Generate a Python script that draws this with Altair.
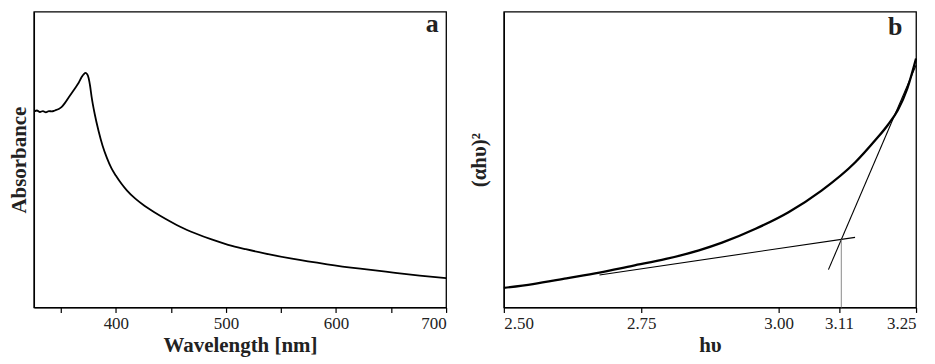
import altair as alt
import pandas as pd

# ---------------- panel a : absorption spectrum ----------------
wavelength = [326, 328.4, 331.1, 333.8, 336.5, 339.2, 341.9, 344.6, 348.2, 350.9,
              353.7, 357.3, 362.7, 366.3, 369.0, 371.0, 372.5, 374.0, 375.3, 376.7,
              378.0, 380.8, 384.4, 388, 392, 396, 400, 405, 410, 418,
              426, 435, 445, 458, 472, 487, 502, 518, 535, 560,
              592, 622, 652, 676, 700]
absorbance = [0.663, 0.666, 0.661, 0.664, 0.660, 0.664, 0.663, 0.666, 0.671, 0.678,
              0.691, 0.711, 0.740, 0.760, 0.779, 0.789, 0.793, 0.789, 0.776, 0.748,
              0.713, 0.655, 0.596, 0.547, 0.505, 0.471, 0.446, 0.419, 0.396, 0.367,
              0.344, 0.322, 0.300, 0.274, 0.251, 0.230, 0.212, 0.197, 0.183, 0.165,
              0.146, 0.131, 0.118, 0.108, 0.099]
left_ticks = [350, 400, 450, 500, 550, 600, 650, 700]

# ---------------- panel b : Tauc plot ----------------
hv = [2.50, 2.553, 2.614, 2.674, 2.734, 2.795, 2.855, 2.897, 2.958, 3.018,
      3.078, 3.139, 3.176, 3.199, 3.217, 3.234, 3.25]
ahv2 = [0.066, 0.079, 0.0985, 0.118, 0.141, 0.164, 0.193, 0.219, 0.266, 0.322,
        0.395, 0.490, 0.566, 0.618, 0.668, 0.740, 0.842]
steep_hv = [3.0906, 3.25]
steep_y = [0.128, 0.819]
base_hv = [2.674, 3.139]
base_y = [0.110, 0.237]
cut_hv = [3.114, 3.114]
cut_y = [0.0, 0.230]
right_ticks = [2.50, 2.75, 3.00, 3.11, 3.25]
panel_labels = ["a", "b"]

FONT = "'Times New Roman', 'Liberation Serif', Times, serif"
W, H = 414, 297

dfa = pd.DataFrame({"wl": wavelength, "A": absorbance})
left_line = alt.Chart(dfa).mark_line(color="black", strokeWidth=1.8,
                                     interpolate="monotone").encode(
    x=alt.X("wl:Q",
            scale=alt.Scale(domain=[325.6, 700], nice=False, zero=False),
            axis=alt.Axis(values=left_ticks, format="d",
                          labelExpr="datum.value % 100 == 0 ? datum.label : ''",
                          title="Wavelength [nm]")),
    y=alt.Y("A:Q", scale=alt.Scale(domain=[0, 1], nice=False),
            axis=alt.Axis(title="Absorbance", ticks=False, labels=False, titlePadding=4)),
)
left_lbl = alt.Chart(pd.DataFrame({"t": [panel_labels[0]]})).mark_text(
    font=FONT, fontSize=26, fontWeight="bold", color="#222", align="center",
    baseline="alphabetic").encode(text="t:N", x=alt.value(400), y=alt.value(20))
left = alt.layer(left_line, left_lbl).properties(width=W, height=H)

dfb = pd.DataFrame({"hv": hv, "y": ahv2})
segs = pd.DataFrame({
    "hv": steep_hv + base_hv,
    "y": steep_y + base_y,
    "seg": ["steep", "steep", "base", "base"],
})
cut = pd.DataFrame({"hv": cut_hv, "y": cut_y})

xb = alt.X("hv:Q", scale=alt.Scale(domain=[2.5, 3.25], nice=False, zero=False),
           axis=alt.Axis(values=right_ticks, format=".2f", title="hυ"))
yb = alt.Y("y:Q", scale=alt.Scale(domain=[0, 1], nice=False),
           axis=alt.Axis(title="(αhυ)²", ticks=False, labels=False, titlePadding=14))

curve = alt.Chart(dfb).mark_line(color="black", strokeWidth=2.3,
                                 interpolate="monotone").encode(x=xb, y=yb)
tang = alt.Chart(segs).mark_line(color="black", strokeWidth=1.1).encode(
    x=xb, y=yb, detail="seg:N")
vline = alt.Chart(cut).mark_line(color="#8a8a8a", strokeWidth=1).encode(x=xb, y=yb)
right_lbl = alt.Chart(pd.DataFrame({"t": [panel_labels[1]]})).mark_text(
    font=FONT, fontSize=26, fontWeight="bold", color="#222", align="center",
    baseline="alphabetic").encode(text="t:N", x=alt.value(393), y=alt.value(23))
right = alt.layer(curve, tang, vline, right_lbl).properties(width=W, height=H)

chart = alt.hconcat(left, right, spacing=58, bounds="flush").properties(
    padding={"left": 0, "top": 1, "right": 5, "bottom": 0}
).configure_view(stroke="black", strokeWidth=1.3).configure_axis(
    grid=False, domainColor="black", domainWidth=1.3, tickColor="black",
    tickSize=5, tickWidth=1.2, labelFont=FONT, labelFontSize=17, labelColor="#222",
    labelPadding=3, titleFont=FONT, titleFontSize=21, titleFontWeight="bold",
    titleColor="#222", titlePadding=3,
)

chart.save("out.html", embed_options={"renderer": "svg", "actions": False})
